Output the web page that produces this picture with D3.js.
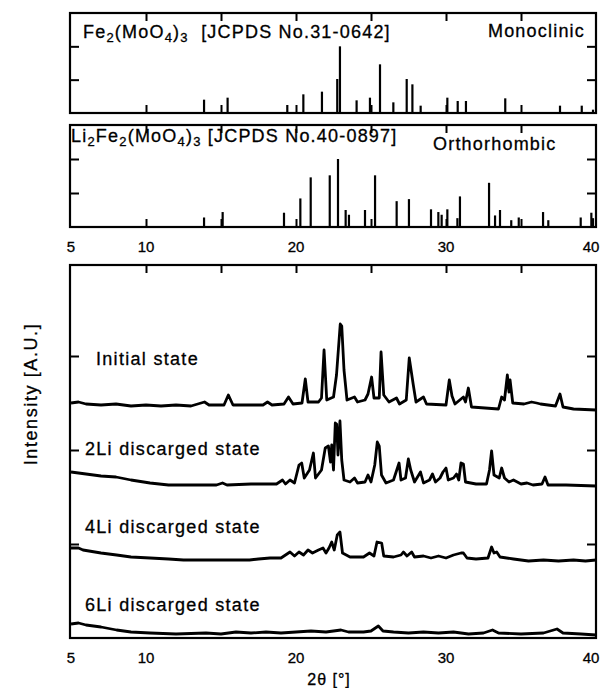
<!DOCTYPE html>
<html>
<head>
<meta charset="utf-8">
<script src="https://cdn.jsdelivr.net/npm/d3@7"></script>
<style>
  body { margin: 0; background: #fff; }
  svg text { font-family: "Liberation Sans", Arial, sans-serif; fill: #000; stroke: #000; stroke-width: 0.3; white-space: pre; }
</style>
</head>
<body>
<svg id="chart" width="611" height="688"></svg>
<script>
//////////////////////////////////////////////////////////////////////////////////////////
// DATA //////////////////////////////////////////////////////////////////////////////////
//////////////////////////////////////////////////////////////////////////////////////////

var xTickLabels = [5, 10, 20, 30, 40];
var xTicks = [10, 15, 20, 25, 30, 35];
var stickTicks = [50, 100];
var mainTicks = [94, 188, 282];

// reference patterns: [2theta, relative intensity]
var fePeaks = [[13.87,20],[15.44,23],[19.42,12],[20.49,28],[21.73,32],[22.75,51],[22.93,100],
  [24.04,19],[24.93,23],[25.6,73],[26.49,16],[27.38,51],[27.76,43],[28.31,11],[30.09,23],
  [30.78,18],[31.33,18],[33.95,22],[37.6,11],[39.05,11],[39.8,5]];
var liPeaks = [[13.87,14],[15.11,22],[19.2,21],[20.29,42],[20.98,73],[22.25,76],[22.8,100],
  [23.31,25],[23.53,18],[24.6,25],[25.27,76],[26.71,38],[27.53,41],[29.0,26],[29.49,22],
  [29.71,18],[30.09,26],[30.76,13],[30.93,45],[32.87,65],[33.27,17],[33.6,25],[34.35,10],
  [34.85,14],[36.47,22],[36.82,10],[38.98,14],[39.69,21],[39.8,13]];

// measured patterns: [2theta, intensity counts]
var initialState = [[5,235],[5.5,236],[6,234],[7,233],[8,234],[9,232],[10,233],[11,232],[12,233],
  [13,232],[13.9,236],[14.2,233],[15.2,233],[15.49,243],[15.8,233],[17.8,233],[18.1,236],[18.4,233],
  [19.2,234],[19.5,241],[19.8,234],[20.4,235],[20.62,259],[20.8,236],[21.5,236],[21.7,240],[21.87,288],
  [22.05,238],[22.5,241],[22.7,263],[22.95,314],[23.05,312],[23.2,268],[23.4,238],[23.9,241],[24.1,236],
  [24.6,238],[24.8,244],[25.04,261],[25.2,240],[25.55,240],[25.67,286],[25.85,243],[26.2,236],[26.7,240],
  [26.9,234],[27.35,238],[27.55,280],[27.82,253],[28,236],[28.5,241],[28.7,234],[30,233],[30.22,258],
  [30.4,242],[30.6,234],[31.16,241],[31.3,236],[31.49,250],[31.7,231],[33.5,229],[33.71,241],[33.9,238],
  [34.09,263],[34.2,246],[34.27,258],[34.45,235],[35.2,234],[35.7,236],[36.04,235],[36.3,234],[37.3,232],
  [37.6,244],[37.8,231],[38.5,229],[40,228]];
var li2State = [[5,166],[6,164],[7,162],[8,161],[9,158],[10.27,155],[11.5,153],[13,153],[14.7,153],
  [15.1,155],[15.4,153],[17,154],[18.7,154],[19.1,158],[19.3,154],[19.6,158],[19.9,155],[20.2,173],
  [20.38,175],[20.55,160],[20.9,168],[21.16,185],[21.3,160],[21.7,168],[21.95,190],[22.16,192],[22.3,176],
  [22.38,193],[22.5,168],[22.62,215],[22.71,214],[22.8,183],[22.93,217],[23.05,178],[23.2,158],[23.6,156],
  [23.9,160],[24.1,155],[24.6,156],[24.8,163],[25,156],[25.25,173],[25.42,196],[25.55,192],[25.7,163],
  [26,155],[26.5,158],[26.87,175],[27,158],[27.3,160],[27.49,179],[27.65,168],[27.9,156],[28.3,166],
  [28.5,155],[28.9,158],[29.1,164],[29.3,156],[29.6,160],[29.8,166],[30,170],[30.15,158],[30.5,160],
  [30.7,164],[30.85,158],[31,175],[31.16,174],[31.3,156],[32,154],[32.7,154],[32.9,168],[33.04,187],
  [33.2,163],[33.55,160],[33.71,170],[33.9,160],[34.2,156],[34.5,158],[35,154],[35.4,155],[35.8,153],
  [36.4,154],[36.6,161],[36.8,153],[38,153],[40,152]];
var li4State = [[5,90],[5.5,90],[5.8,88],[7,85],[8.04,83],[9,81],[10.27,80],[11.5,79],[12.5,78],[14,78],
  [15,78],[16.9,78],[17.5,79],[18.27,80],[19,80],[19.6,86],[19.9,82],[20.2,86],[20.5,83],[20.8,88],
  [21.1,85],[21.5,88],[21.8,90],[22,85],[22.2,90],[22.38,96],[22.55,88],[22.75,103],[22.93,106],[23.1,85],
  [23.6,81],[24.5,81],[24.9,85],[25.2,82],[25.4,96],[25.71,95],[25.85,82],[26.5,81],[27,83],[27.16,86],
  [27.4,82],[27.71,86],[27.9,81],[28.5,82],[29,80],[29.5,82],[30,80],[30.5,83],[31,85],[31.16,85],
  [31.4,80],[32,79],[32.8,80],[33.04,91],[33.2,85],[33.38,86],[33.6,81],[34.5,79],[35.5,77],[36.5,78],
  [37.5,77],[38.5,78],[39.3,77],[40,78]];
var li6State = [[5,14],[5.5,15],[6,13],[7,11],[8.04,8],[9,6],[10.27,5],[12,4],[14,5],[15,4],[16,6],
  [17,5],[18,6],[19,5],[20,6],[21,7],[22,6],[23,8],[23.5,6],[24.5,6],[25,7],[25.49,12],[25.8,7],
  [26.5,6],[27.5,5],[28.5,6],[29.5,5],[30.5,6],[31.5,4],[32.5,5],[33.1,8],[33.5,5],[35,4],[36.5,5],
  [37.4,9],[37.8,5],[39,4],[40,3]];

var stateLabels = ["Initial state", "2Li discarged state", "4Li discarged state", "6Li discarged state"];

//////////////////////////////////////////////////////////////////////////////////////////
// DRAWING ///////////////////////////////////////////////////////////////////////////////
//////////////////////////////////////////////////////////////////////////////////////////

var svg = d3.select("#chart");
var x = d3.scaleLinear().domain([5, 40]).range([71, 596]);
var left = 70, right = 596;

function frame(top, bottom, y, yTicks, bottomTicks) {
  var g = svg.append("g");
  g.append("rect")
    .attr("x", left).attr("y", top)
    .attr("width", right - left).attr("height", bottom - top)
    .attr("fill", "none").attr("stroke", "#000").attr("stroke-width", 2.2);

  var axes = [
    [d3.axisTop(x).tickValues(xTicks).tickSize(-8), "translate(0," + top + ")"],
    [d3.axisLeft(y).tickValues(yTicks).tickSize(-9), "translate(" + left + ",0)"],
    [d3.axisRight(y).tickValues(yTicks).tickSize(-9), "translate(" + right + ",0)"]
  ];
  if (bottomTicks) axes.push([d3.axisBottom(x).tickValues(xTicks).tickSize(-8), "translate(0," + bottom + ")"]);

  axes.forEach(function(a) {
    g.append("g").attr("transform", a[1])
      .call(a[0].tickFormat(""))
      .call(function(s) { s.select(".domain").remove(); })
      .selectAll("line").attr("stroke", "#000").attr("stroke-width", 2);
  });
  return g;
}

function sticks(g, peaks, y) {
  g.selectAll("line.stick").data(peaks).enter().append("line")
    .attr("class", "stick")
    .attr("x1", function(d) { return x(d[0]); }).attr("x2", function(d) { return x(d[0]); })
    .attr("y1", y(0)).attr("y2", function(d) { return y(d[1]); })
    .attr("stroke", "#000").attr("stroke-width", 2.2);
}

// formula text with subscripts, parts = [[text, isSub], ...]
function formula(xPos, yPos, parts, anchor) {
  var t = svg.append("text").attr("x", xPos).attr("y", yPos)
    .attr("font-size", 18).attr("letter-spacing", 1.2)
    .attr("text-anchor", anchor || "start");
  var sub = false;
  parts.forEach(function(p) {
    var ts = t.append("tspan").text(p[0]);
    if (p[1] && !sub) { ts.attr("dy", 4).attr("font-size", 13); sub = true; }
    else if (p[1]) { ts.attr("font-size", 13); }
    else if (sub) { ts.attr("dy", -4); sub = false; }
  });
  return t;
}

// top panel: Fe2(MoO4)3
var y1 = d3.scaleLinear().domain([0, 150]).range([113, 13]);
var g1 = frame(13, 113, y1, stickTicks, true);
sticks(g1, fePeaks, y1);
formula(83, 38, [["Fe",0],["2",1],["(MoO",0],["4",1],[")",0],["3",1],["  [JCPDS No.31-0642]",0]]);
formula(585, 37, [["Monoclinic",0]], "end");

// second panel: Li2Fe2(MoO4)3
var y2 = d3.scaleLinear().domain([0, 150]).range([227, 125]);
var g2 = frame(125, 227, y2, stickTicks, true);
sticks(g2, liPeaks, y2);
formula(71, 142, [["Li",0],["2",1],["Fe",0],["2",1],["(MoO",0],["4",1],[")",0],["3",1],[" [JCPDS No.40-0897]",0]]);
formula(433, 150, [["Orthorhombic",0]]);

// tick labels under second panel and main panel
[252, 663].forEach(function(yy) {
  svg.append("g").attr("transform", "translate(0," + yy + ")")
    .selectAll("text").data(xTickLabels).enter().append("text")
    .attr("x", function(d) { return x(d) - (d === 40 ? 5 : 0); })
    .attr("text-anchor", "middle").attr("font-size", 15)
    .text(function(d) { return d; });
});

// main panel
var yMain = d3.scaleLinear().domain([0, 373]).range([638, 265]);
var gm = frame(265, 638, yMain, mainTicks, false);

var line = d3.line()
  .x(function(d) { return x(d[0]); })
  .y(function(d) { return yMain(d[1]); });

[initialState, li2State, li4State, li6State].forEach(function(s) {
  gm.append("path").datum(s)
    .attr("d", line)
    .attr("fill", "none").attr("stroke", "#000")
    .attr("stroke-width", 2.8).attr("stroke-linejoin", "round");
});

var labelPos = [[96, 365], [85, 455], [85, 533], [85, 611]];
stateLabels.forEach(function(l, i) {
  svg.append("text").attr("x", labelPos[i][0]).attr("y", labelPos[i][1])
    .attr("font-size", 18).attr("letter-spacing", 1.3)
    .text(l);
});

svg.append("text")
  .attr("transform", "translate(37,394) rotate(-90)")
  .attr("text-anchor", "middle").attr("font-size", 18).attr("letter-spacing", 1.6)
  .text("Intensity [A.U.]");

svg.append("text")
  .attr("x", 329).attr("y", 685)
  .attr("text-anchor", "middle").attr("font-size", 16).attr("letter-spacing", 1)
  .text("2\u03b8 [\u00b0]");
</script>
</body>
</html>
